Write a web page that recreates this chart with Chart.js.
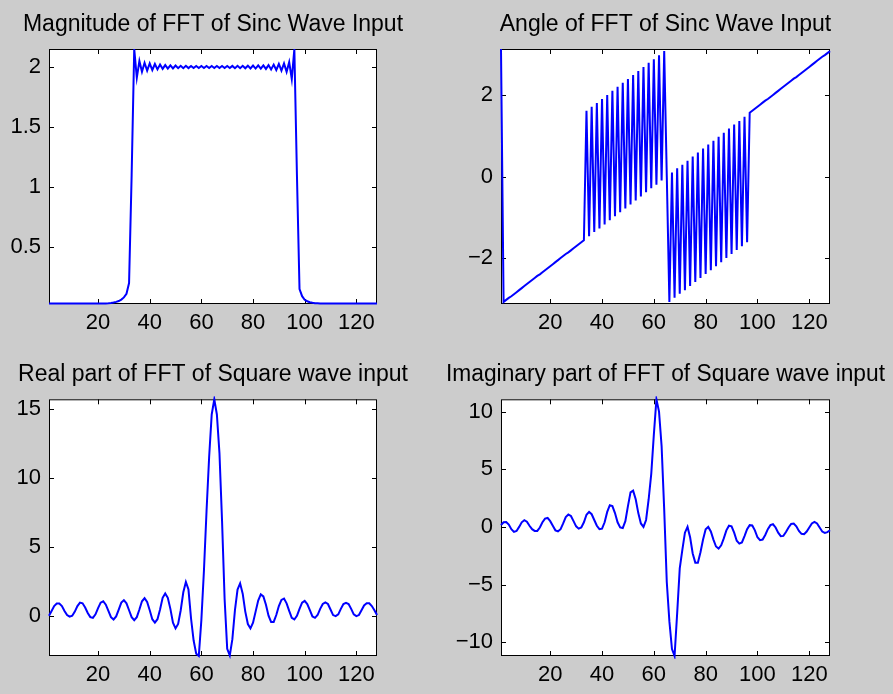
<!DOCTYPE html>
<html>
<head>
<meta charset="utf-8">
<script src="https://cdn.jsdelivr.net/npm/chart.js@4.4.1/dist/chart.umd.min.js"></script>
<style>
  html, body { margin: 0; padding: 0; background: #cccccc; overflow: hidden; }
  .panel { position: absolute; }
</style>
</head>
<body>
<div class="panel" style="left:0;top:0;width:446px;height:347px"><canvas id="magChart"></canvas></div>
<div class="panel" style="left:446px;top:0;width:447px;height:347px"><canvas id="angChart"></canvas></div>
<div class="panel" style="left:0;top:347px;width:446px;height:347px"><canvas id="realChart"></canvas></div>
<div class="panel" style="left:446px;top:347px;width:447px;height:347px"><canvas id="imagChart"></canvas></div>
<script>
Chart.defaults.font.family = '"Liberation Sans", Arial, sans-serif';
Chart.defaults.color = '#000';

// sample index 1..128
const bins = Array.from({ length: 128 }, (_, i) => i + 1);
const xTicks = [20, 40, 60, 80, 100, 120];

// |FFT| of sinc input
const magValues = [
  0.03, 0.03, 0.03, 0.03, 0.03, 0.03, 0.03, 0.03, 0.03, 0.03,
  0.03, 0.03, 0.03, 0.03, 0.03, 0.03, 0.03, 0.03, 0.03, 0.03,
  0.03, 0.03, 0.03, 0.031, 0.033, 0.037, 0.043, 0.05, 0.062, 0.08,
  0.11, 0.2, 1.1, 2.15, 1.91, 2.05, 1.96, 2.035, 1.97, 2.03,
  1.975, 2.025, 1.98, 2.02, 1.985, 2.016, 1.986, 2.014, 1.988, 2.012,
  1.99, 2.01, 1.99, 2.01, 1.991, 2.009, 1.992, 2.008, 1.992, 2.008,
  1.992, 2.008, 1.992, 2.008, 1.992, 2.008, 1.992, 2.008, 1.992, 2.008,
  1.991, 2.009, 1.99, 2.01, 1.99, 2.01, 1.989, 2.011, 1.988, 2.012,
  1.987, 2.013, 1.986, 2.014, 1.984, 2.016, 1.98, 2.02, 1.975, 2.025,
  1.97, 2.03, 1.96, 2.04, 1.9, 2.15, 1.1, 0.15, 0.09, 0.06,
  0.048, 0.04, 0.035, 0.032, 0.031, 0.03, 0.03, 0.03, 0.03, 0.03,
  0.03, 0.03, 0.03, 0.03, 0.03, 0.03, 0.03, 0.03, 0.03, 0.03,
  0.03, 0.03, 0.03, 0.03, 0.03, 0.03, 0.03, 0.03
];
const magRange = [0.025, 2.15];
const magTicks = [0.5, 1, 1.5, 2];

// angle of FFT of sinc input
const angleValues = [
  3.14, -3.09, -3.04, -2.99, -2.95, -2.90, -2.85, -2.80, -2.75, -2.70,
  -2.65, -2.60, -2.55, -2.50, -2.45, -2.41, -2.36, -2.31, -2.26, -2.21,
  -2.16, -2.11, -2.06, -2.01, -1.96, -1.91, -1.87, -1.82, -1.77, -1.72,
  -1.67, -1.62, -1.57, 1.62, -1.47, 1.72, -1.37, 1.81, -1.28, 1.91,
  -1.18, 2.01, -1.08, 2.11, -0.98, 2.21, -0.88, 2.31, -0.79, 2.40,
  -0.69, 2.50, -0.59, 2.60, -0.49, 2.70, -0.39, 2.80, -0.29, 2.89,
  -0.20, 2.99, -0.10, 3.09, 0.00, -3.09, 0.10, -2.99, 0.20, -2.89,
  0.29, -2.80, 0.39, -2.70, 0.49, -2.60, 0.59, -2.50, 0.69, -2.40,
  0.79, -2.31, 0.88, -2.21, 0.98, -2.11, 1.08, -2.01, 1.18, -1.91,
  1.28, -1.81, 1.37, -1.72, 1.47, -1.62, 1.57, 1.62, 1.67, 1.72,
  1.77, 1.82, 1.87, 1.91, 1.96, 2.01, 2.06, 2.11, 2.16, 2.21,
  2.26, 2.31, 2.36, 2.41, 2.45, 2.50, 2.55, 2.60, 2.65, 2.70,
  2.75, 2.80, 2.85, 2.90, 2.95, 2.99, 3.04, 3.09
];
const angleRange = [-3.1416, 3.1416];
const angleTicks = [-2, 0, 2];

// real part of FFT of square wave input
const realValues = [
  0.0, 0.35, 0.7, 0.88, 0.88, 0.7, 0.35, 0.05, -0.07, 0.0,
  0.3, 0.7, 0.95, 0.9, 0.6, 0.2, -0.1, -0.15, 0.1, 0.55,
  0.95, 1.05, 0.8, 0.35, -0.1, -0.27, -0.05, 0.45, 0.95, 1.13,
  0.9, 0.4, -0.1, -0.32, -0.1, 0.45, 1.05, 1.27, 1.0, 0.4,
  -0.25, -0.5, -0.25, 0.45, 1.3, 1.62, 1.3, 0.5, -0.5, -0.92,
  -0.6, 0.4, 1.7, 2.45, 1.9, -0.2, -1.8, -2.75, -2.92, -0.3,
  3.3, 7.6, 11.5, 14.6, 15.7, 14.6, 11.8, 6.9, 1.2, -2.4,
  -2.88, -1.7, 0.4, 1.9, 2.35, 1.6, 0.3, -0.6, -0.92, -0.5,
  0.3, 1.1, 1.55, 1.4, 0.8, 0.0, -0.45, -0.45, 0.05, 0.7,
  1.15, 1.25, 0.9, 0.35, -0.15, -0.27, 0.0, 0.5, 0.95, 1.08,
  0.85, 0.4, -0.05, -0.15, 0.05, 0.5, 0.85, 0.97, 0.85, 0.45,
  0.05, -0.03, 0.1, 0.5, 0.85, 0.94, 0.85, 0.5, 0.1, -0.03,
  0.05, 0.4, 0.75, 0.9, 0.9, 0.7, 0.4, 0.05
];
const realRange = [-2.92, 15.7];
const realTicks = [0, 5, 10, 15];

// imaginary part of FFT of square wave input
const imagValues = [
  0.15, 0.4, 0.43, 0.2, -0.2, -0.43, -0.35, 0.0, 0.4, 0.58,
  0.45, 0.1, -0.2, -0.35, -0.35, -0.05, 0.4, 0.72, 0.78, 0.5,
  0.1, -0.3, -0.38, -0.2, 0.3, 0.85, 1.07, 0.95, 0.5, 0.05,
  -0.15, -0.05, 0.4, 1.05, 1.3, 1.1, 0.6, 0.1, -0.2, -0.15,
  0.4, 1.3, 1.88, 1.8, 1.2, 0.4, -0.05, -0.1, 0.5, 1.8,
  3.0, 3.15, 2.4, 1.2, 0.3, 0.0, 0.6, 2.4, 4.6, 8.0,
  11.07, 10.0, 7.0, 1.5, -4.8, -8.2, -10.6, -11.2, -7.5, -3.6,
  -2.0, -0.5, 0.0, -0.9, -2.3, -3.1, -3.1, -2.2, -1.1, -0.2,
  0.0, -0.4, -1.1, -1.7, -1.88, -1.6, -1.0, -0.3, 0.1, 0.05,
  -0.5, -1.2, -1.45, -1.35, -0.8, -0.2, 0.15, 0.12, -0.3, -0.9,
  -1.15, -1.1, -0.7, -0.2, 0.15, 0.23, -0.05, -0.5, -0.8, -0.78,
  -0.45, -0.05, 0.25, 0.29, 0.05, -0.35, -0.6, -0.64, -0.4, -0.05,
  0.3, 0.43, 0.3, -0.05, -0.4, -0.52, -0.45, -0.29
];
const imagRange = [-11.2, 11.07];
const imagTicks = [-10, -5, 0, 5, 10];

// white axes box with inward ticks on all four sides (matlab style)
const framePlugin = {
  id: 'frame',
  beforeDraw(chart) {
    const { ctx, chartArea: a } = chart;
    ctx.save();
    ctx.fillStyle = '#ffffff';
    ctx.fillRect(a.left, a.top, a.right - a.left, a.bottom - a.top);
    ctx.restore();
  },
  beforeDatasetsDraw(chart) {
    const { ctx, chartArea: a, scales } = chart;
    ctx.save();
    ctx.strokeStyle = '#000';
    ctx.lineWidth = 1;
    ctx.strokeRect(a.left + 0.5, a.top + 0.5, a.right - a.left - 1, a.bottom - a.top - 1);
    ctx.beginPath();
    scales.x.ticks.forEach(t => {
      const px = Math.round(scales.x.getPixelForValue(t.value)) + 0.5;
      ctx.moveTo(px, a.bottom); ctx.lineTo(px, a.bottom - 5);
      ctx.moveTo(px, a.top); ctx.lineTo(px, a.top + 5);
    });
    scales.y.ticks.forEach(t => {
      const py = Math.round(scales.y.getPixelForValue(t.value)) + 0.5;
      ctx.moveTo(a.left, py); ctx.lineTo(a.left + 5, py);
      ctx.moveTo(a.right, py); ctx.lineTo(a.right - 5, py);
    });
    ctx.stroke();
    ctx.restore();
  }
};

const fmt = v => String(v).replace('-', '\u2212');

function makePanel(id, title, values, yRange, yTicks, box) {
  return new Chart(document.getElementById(id), {
    type: 'line',
    data: {
      datasets: [{
        data: values.map((v, i) => ({ x: bins[i], y: v })),
        borderColor: '#0000ff',
        borderWidth: 2,
        pointRadius: 0,
        tension: 0,
        fill: false,
        clip: 3
      }]
    },
    options: {
      responsive: true,
      maintainAspectRatio: false,
      animation: false,
      layout: { padding: { left: 0, top: 0, right: box.right, bottom: 0 } },
      plugins: {
        legend: { display: false },
        tooltip: { enabled: false },
        title: {
          display: true,
          text: title,
          color: '#000',
          font: { size: 23, weight: 'normal' },
          padding: { top: box.titleTop, bottom: box.titleBottom }
        }
      },
      scales: {
        x: {
          type: 'linear',
          min: 1,
          max: 128,
          grid: { display: false, drawTicks: false },
          border: { display: false },
          afterBuildTicks: s => { s.ticks = xTicks.map(v => ({ value: v })); },
          afterFit: s => { s.height = box.xAxisH; },
          ticks: { padding: 6, font: { size: 22 }, color: '#000', maxRotation: 0, autoSkip: false, callback: fmt }
        },
        y: {
          type: 'linear',
          min: yRange[0],
          max: yRange[1],
          grid: { display: false, drawTicks: false },
          border: { display: false },
          afterBuildTicks: s => { s.ticks = yTicks.map(v => ({ value: v })); },
          afterFit: s => { s.width = box.left; },
          ticks: { padding: 8, font: { size: 22 }, color: '#000', autoSkip: false, callback: fmt }
        },
        // empty right-hand box, same width as the left axis, keeps the title centred on the axes
        yr: {
          type: 'linear',
          position: 'right',
          grid: { display: false, drawTicks: false },
          border: { display: false },
          ticks: { display: false },
          afterFit: s => { s.width = box.left; }
        }
      }
    },
    plugins: [framePlugin]
  });
}

makePanel('magChart', 'Magnitude of FFT of Sinc Wave Input', magValues, magRange, magTicks,
  { left: 49, right: 20, titleTop: 10.7, titleBottom: 10.7, xAxisH: 43 });
makePanel('angChart', 'Angle of FFT of Sinc Wave Input', angleValues, angleRange, angleTicks,
  { left: 55, right: 8, titleTop: 10.7, titleBottom: 10.7, xAxisH: 43 });
makePanel('realChart', 'Real part of FFT of Square wave input', realValues, realRange, realTicks,
  { left: 49, right: 20, titleTop: 13.9, titleBottom: 10.8, xAxisH: 38 });
makePanel('imagChart', 'Imaginary part of FFT of Square wave input', imagValues, imagRange, imagTicks,
  { left: 55, right: 8, titleTop: 13.9, titleBottom: 10.8, xAxisH: 38 });
</script>
</body>
</html>
